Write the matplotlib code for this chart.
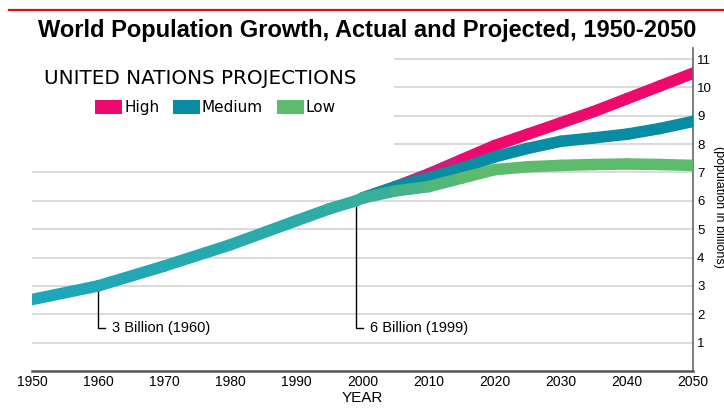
import matplotlib.pyplot as plt
from matplotlib.collections import LineCollection
from matplotlib.lines import Line2D
from matplotlib.patches import Patch, Rectangle
import numpy as np

# actual world population, billions
years_actual = [1950, 1960, 1970, 1980, 1990, 1995, 1999, 2000]
pop_actual = [2.52, 3.0, 3.7, 4.45, 5.3, 5.72, 6.0, 6.1]

# UN projections, billions
years_proj = [2000, 2005, 2010, 2015, 2020, 2025, 2030, 2035, 2040, 2045, 2050]
pop_high = [6.1, 6.5, 6.95, 7.45, 7.95, 8.35, 8.75, 9.15, 9.6, 10.05, 10.5]
pop_medium = [6.1, 6.5, 6.8, 7.15, 7.55, 7.85, 8.1, 8.22, 8.35, 8.55, 8.8]
pop_low = [6.1, 6.35, 6.5, 6.8, 7.1, 7.2, 7.25, 7.28, 7.3, 7.28, 7.25]

labels = ["High", "Medium", "Low"]
colors = ["#ee0a6c", "#078ca3", "#5dbc6b"]

x_ticks = list(range(1950, 2051, 10))
y_ticks = list(range(1, 12))

milestones = [(1960, 3.0, "3 Billion (1960)"), (1999, 6.0, "6 Billion (1999)")]

SANS = "Liberation Sans"
LW = 8.3


def segments(xs, ys):
    pts = np.column_stack([xs, ys])
    return np.stack([pts[:-1], pts[1:]], axis=1)


def fade(c0, c1, n):
    a = np.array(plt.matplotlib.colors.to_rgb(c0))
    b = np.array(plt.matplotlib.colors.to_rgb(c1))
    return [tuple(a + (b - a) * t) for t in np.linspace(0, 1, n)]


fig = plt.figure(figsize=(7.24, 4.18), dpi=100)
ax = fig.add_axes([32 / 724, 1 - 371 / 418, 661 / 724, 323.3 / 418])

ax.set_xlim(1950, 2050)
ax.set_ylim(0, 11.4)

# gridlines, blanked behind the legend block
for y in y_ticks:
    ax.axhline(y, color="#d4d4d4", lw=1.2, zorder=0)
ax.add_patch(Rectangle((0, 7.6 / 11.4), 0.548, 1, transform=ax.transAxes,
                       facecolor="white", edgecolor="none", zorder=0.5))

# projections: high under medium under low
n = len(years_proj) - 1
high_cols = fade("#8a4a96", colors[0], 4) + [colors[0]] * (n - 4)
low_cols = fade("#3aae98", colors[2], 4) + [colors[2]] * (n - 4)
ax.add_collection(LineCollection(segments(years_proj, pop_high), colors=high_cols,
                                 linewidths=LW, capstyle="round", zorder=2))
ax.add_collection(LineCollection(segments(years_proj, pop_medium), colors=colors[1],
                                 linewidths=LW, capstyle="round", zorder=3))
ax.add_collection(LineCollection(segments(years_proj, pop_low), colors=low_cols,
                                 linewidths=LW, capstyle="round", zorder=4))

# actual series
act_cols = fade("#1ea6ba", "#38ae9c", len(years_actual) - 1)
ax.add_collection(LineCollection(segments(years_actual, pop_actual), colors=act_cols,
                                 linewidths=LW, capstyle="round", zorder=5))

# milestone callouts
for yr, val, txt in milestones:
    ax.plot([yr, yr, yr + 1], [val, 1.5, 1.5], color="black", lw=1, zorder=1)
    ax.text(yr + 2.1, 1.5, txt, fontsize=10.5, family=SANS, va="center", ha="left")

ax.spines["left"].set_visible(False)
ax.spines["top"].set_visible(False)
ax.spines["bottom"].set_color("#555555")
ax.spines["bottom"].set_linewidth(1.8)
ax.spines["right"].set_color("#666666")
ax.spines["right"].set_linewidth(1.2)

ax.yaxis.tick_right()
ax.set_yticks(y_ticks)
ax.set_xticks(x_ticks)
ax.tick_params(axis="y", length=0, labelsize=9.5, pad=3)
ax.tick_params(axis="x", length=0, labelsize=10, pad=3)
for lab in ax.get_xticklabels() + ax.get_yticklabels():
    lab.set_family(SANS)
ax.set_xlabel("YEAR", fontsize=11, family=SANS, labelpad=1)

# legend block: heading plus colour keys
fig.text(44 / 724, 1 - 78 / 418, "UNITED NATIONS PROJECTIONS", fontsize=14.3,
         family="DejaVu Sans", ha="left", va="center")
handles = [Patch(facecolor=c, edgecolor="none") for c in colors]
ax.legend(handles, labels, ncol=3, loc="upper left",
          bbox_to_anchor=(95 / 724, 1 - 100 / 418), bbox_transform=fig.transFigure,
          frameon=False, prop={"family": "DejaVu Sans", "size": 11},
          handlelength=1.75, handleheight=1.0, handletextpad=0.15,
          columnspacing=0.9, borderpad=0, borderaxespad=0)

fig.add_artist(Line2D([9 / 724, 1], [1 - 10 / 418] * 2, color="#e01010", lw=1.6))
fig.text(367 / 724, 1 - 30 / 418, "World Population Growth, Actual and Projected, 1950-2050",
         fontsize=17, weight="bold", family=SANS, ha="center", va="center")
fig.text(719 / 724, 1 - 207 / 418, "(population in billions)", fontsize=9, family=SANS,
         rotation=270, ha="center", va="center")

fig.savefig("out.png", dpi=100)
